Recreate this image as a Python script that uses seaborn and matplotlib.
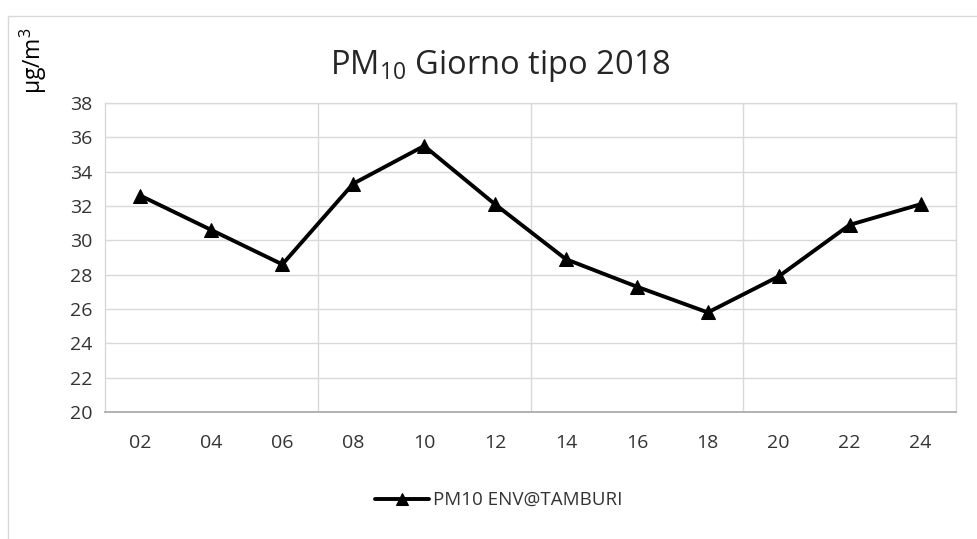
import matplotlib
matplotlib.use("Agg")
import matplotlib.pyplot as plt
import matplotlib.patches as patches
import seaborn as sns
import pandas as pd

hours = ["02", "04", "06", "08", "10", "12", "14", "16", "18", "20", "22", "24"]
pm10 = [32.6, 30.6, 28.6, 33.3, 35.5, 32.1, 28.9, 27.3, 25.8, 27.9, 30.9, 32.1]
series_name = "PM10 ENV@TAMBURI"
y_ticks = list(range(20, 39, 2))

sns.set_theme(style="white")
plt.rcParams["font.family"] = ["Open Sans", "DejaVu Sans"]
plt.rcParams["mathtext.fontset"] = "custom"
plt.rcParams["mathtext.rm"] = "Open Sans"

df = pd.DataFrame({"ora": hours, "valore": pm10})

fig = plt.figure(figsize=(9.78, 5.39), dpi=100)
ax = fig.add_axes([0.1074, 0.2356, 0.8701, 0.5733])

sns.lineplot(data=df, x="ora", y="valore", ax=ax, color="black", linewidth=2.8,
             marker="^", markersize=10.5, markeredgecolor="black", label=series_name,
             legend=False)

ax.set_xlim(-0.5, len(hours) - 0.5)
ax.set_ylim(20, 38)
ax.set_yticks(y_ticks)
ax.set_xticks(range(len(hours)))
ax.set_xticklabels(hours)
ax.set_xticks([2.5, 5.5, 8.5], minor=True)
ax.tick_params(axis="both", which="both", length=0, labelsize=14, colors="#333333")
ax.tick_params(axis="x", pad=16)
ax.tick_params(axis="y", pad=9)
ax.grid(axis="y", which="major", color="#d9d9d9", linewidth=1)
ax.grid(axis="x", which="minor", color="#d9d9d9", linewidth=1)
ax.grid(axis="x", which="major", visible=False)
ax.set_axisbelow(True)
ax.set_xlabel("")
ax.set_ylabel("")
for side in ["left", "right", "top"]:
    ax.spines[side].set_color("#d9d9d9")
    ax.spines[side].set_linewidth(1)
ax.spines["bottom"].set_color("#a6a6a6")
ax.spines["bottom"].set_linewidth(1.2)

fig.text(0.512, 0.878, r"PM$_{\mathregular{10}}$ Giorno tipo 2018", ha="center", va="center",
         fontsize=23.5, color="#262626")
fig.text(0.034, 0.888, r"µg/m$^{\mathregular{3}}$", rotation=90, ha="center", va="center",
         fontsize=16.5, color="black")

handles, labels = ax.get_legend_handles_labels()
fig.legend(handles, labels, loc="center", bbox_to_anchor=(0.51, 0.072), frameon=False,
           fontsize=13.5, handlelength=2.9, handletextpad=0.2, labelcolor="#333333",
           markerscale=0.8)

border = patches.Rectangle((8 / 978, -0.05), 1.0, 1 - 16 / 539 + 0.05,
                           transform=fig.transFigure, fill=False,
                           edgecolor="#d9d9d9", linewidth=1)
fig.patches.append(border)

fig.savefig("out.png", dpi=100)
